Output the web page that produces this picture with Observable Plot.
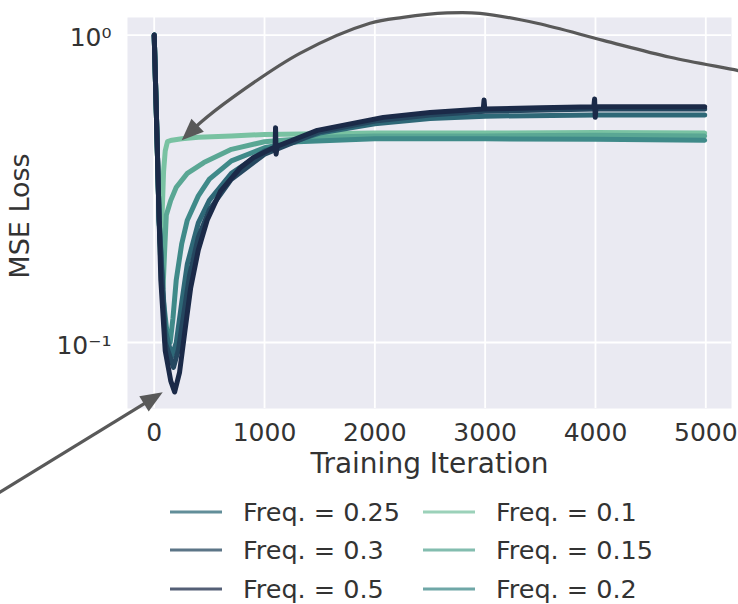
<!DOCTYPE html>
<html><head><meta charset="utf-8">
<script src="https://cdn.jsdelivr.net/npm/d3@7"></script>
<script src="https://cdn.jsdelivr.net/npm/@observablehq/plot@0.6"></script>
<style>
body{margin:0;background:#fff;font-family:"DejaVu Sans",sans-serif;}
#wrap{position:relative;width:738px;height:604px;overflow:hidden;}
.item{position:absolute;display:flex;align-items:center;font-size:25.5px;color:#333;height:34px;white-space:nowrap;}
.item svg{margin-right:21px;}
</style></head><body><div id="wrap"></div>
<script>
// ---- data ----
const freqLabels = ["Freq. = 0.1", "Freq. = 0.15", "Freq. = 0.2", "Freq. = 0.25", "Freq. = 0.3", "Freq. = 0.5"];
const freqColors = ["#79c2a2", "#5aa794", "#3f8a89", "#2e6877", "#25475f", "#1b2a48"];
const legendOrder = ["Freq. = 0.25", "Freq. = 0.3", "Freq. = 0.5", "Freq. = 0.1", "Freq. = 0.15", "Freq. = 0.2"];

const freq01 = [[0,1.0],[20,0.55],[45,0.25],[60,0.18],[70,0.25],[85,0.36],[100,0.42],[120,0.45],[160,0.455],[250,0.46],[400,0.465],[700,0.47],[1000,0.475],[1500,0.478],[2000,0.48],[3000,0.48],[4000,0.482],[4990,0.48]];
const freq015 = [[0,1.0],[20,0.55],[45,0.25],[65,0.16],[80,0.15],[95,0.2],[110,0.26],[150,0.29],[200,0.32],[300,0.355],[450,0.385],[700,0.425],[1000,0.45],[1500,0.465],[2000,0.47],[3000,0.47],[4000,0.472],[4990,0.47]];
const freq02 = [[0,1.0],[20,0.55],[45,0.25],[80,0.14],[120,0.105],[145,0.1],[170,0.12],[200,0.16],[250,0.21],[300,0.25],[400,0.3],[500,0.34],[700,0.39],[1000,0.43],[1300,0.45],[2000,0.46],[3000,0.46],[4000,0.458],[4990,0.455]];
const freq025 = [[0,1.0],[20,0.55],[45,0.25],[100,0.11],[160,0.09],[200,0.1],[250,0.135],[300,0.18],[400,0.245],[500,0.29],[700,0.355],[1000,0.42],[1500,0.48],[2000,0.515],[2500,0.535],[3000,0.545],[4000,0.55],[4990,0.55]];
const freq03 = [[0,1.0],[20,0.55],[45,0.25],[100,0.1],[175,0.083],[220,0.095],[270,0.125],[320,0.165],[400,0.22],[500,0.27],[700,0.34],[1000,0.41],[1500,0.485],[2000,0.525],[2500,0.55],[3000,0.565],[4000,0.575],[4990,0.575]];
const freq05 = [[0,1.0],[20,0.55],[45,0.25],[60,0.16],[100,0.094],[150,0.075],[185,0.069],[230,0.08],[280,0.11],[330,0.15],[400,0.2],[480,0.25],[600,0.31],[780,0.37],[900,0.4],[1080,0.43],[1095,0.42],[1100,0.5],[1105,0.41],[1115,0.435],[1478,0.49],[2076,0.54],[2500,0.56],[2983,0.575],[2990,0.615],[2997,0.575],[3500,0.58],[3985,0.585],[3992,0.62],[3998,0.54],[4005,0.585],[4500,0.585],[4990,0.585]];
const seriesList = [freq01, freq015, freq02, freq025, freq03, freq05];

const xTicks = [0, 1000, 2000, 3000, 4000, 5000];
const yTicks = [0.1, 1];
const yTickLabels = {"0.1": "10\u207B\u00B9", "1": "10\u2070"};

// annotation arrows, in data units (iteration, loss)
const arrowCurvePath = [[5363,0.754],[5290,0.765],[4682,0.844],[4074,0.958],[3475,1.089],[2958,1.173],[2659,1.176],[2260,1.138],[1960,1.089],[1325,0.869],[717,0.625],[417,0.515],[254,0.453]];
const arrowLine = {from: [-1441, 0.0317], to: [82, 0.0686]};

// ---- build table ----
const table = [];
seriesList.forEach((s, i) => s.forEach(([it, v]) => table.push({iter: it, loss: v, freq: freqLabels[i]})));

const plot = Plot.plot({
  width: 738, height: 490,
  marginLeft: 127, marginRight: 7, marginTop: 17, marginBottom: 82,
  style: {fontFamily: "DejaVu Sans", fontSize: "25px", color: "#333", background: "transparent", overflow: "visible"},
  x: {domain: [-242, 5233]},
  y: {type: "log", domain: [0.061, 1.141]},
  color: {domain: freqLabels, range: freqColors},
  marks: [
    Plot.frame({fill: "#eaeaf2", stroke: "none"}),
    Plot.gridX(xTicks, {stroke: "white", strokeOpacity: 1, strokeWidth: 1.8}),
    Plot.gridY(yTicks, {stroke: "white", strokeOpacity: 1, strokeWidth: 1.8}),
    Plot.axisX(xTicks, {tickSize: 0, tickPadding: 15, label: null, tickFormat: d => String(d), fontSize: 25}),
    Plot.axisY(yTicks, {tickSize: 0, tickPadding: 16, label: null, tickFormat: d => yTickLabels[String(d)], fontSize: 25, dy: 3}),
    Plot.line(table, {x: "iter", y: "loss", z: "freq", stroke: "freq", strokeWidth: 5, strokeLinejoin: "round"}),
    Plot.text(["Training Iteration"], {frameAnchor: "bottom", dy: 64, fontSize: 28, fill: "#333"}),
    Plot.text(["MSE Loss"], {frameAnchor: "left", textAnchor: "middle", dx: -107, dy: 3, rotate: -90, fontSize: 27, fill: "#333"})
  ]
});

// ---- arrows through the plot's scales ----
const sx = plot.scale("x"), sy = plot.scale("y");
const P = ([a, b]) => [sx.apply(a), sy.apply(b)];
const g = d3.select(plot).append("g").attr("fill", "#595959").attr("stroke", "#595959");
function head(tip, dir, L = 22, W = 18) {
  const n = Math.hypot(dir[0], dir[1]); const ux = dir[0] / n, uy = dir[1] / n;
  const bx = tip[0] - ux * L, by = tip[1] - uy * L;
  const px = -uy * W / 2, py = ux * W / 2;
  g.append("path").attr("stroke", "none")
    .attr("d", `M${tip[0]},${tip[1]}L${bx + px},${by + py}L${bx - px},${by - py}Z`);
  return [tip[0] - ux * L * 0.7, tip[1] - uy * L * 0.7];
}
{
  const pts = arrowCurvePath.map(P);
  const tip = pts[pts.length - 1], prev = pts[pts.length - 2];
  const end = head(tip, [tip[0] - prev[0], tip[1] - prev[1]]);
  const shaft = pts.slice(0, -1).concat([end]);
  g.append("path").attr("fill", "none").attr("stroke-width", 3.2)
    .attr("d", d3.line().curve(d3.curveCatmullRom.alpha(0.5))(shaft));
}
{
  const p0 = P(arrowLine.from), p2 = P(arrowLine.to);
  const end = head(p2, [p2[0] - p0[0], p2[1] - p0[1]]);
  g.append("path").attr("fill", "none").attr("stroke-width", 3.2)
    .attr("d", `M${p0[0]},${p0[1]}L${end[0]},${end[1]}`);
}

const wrap = document.getElementById("wrap");
wrap.appendChild(plot);

// ---- legend (below the SVG) ----
const rowY = [512, 550, 589];
const colX = [170, 423];
legendOrder.forEach((lab, k) => {
  const col = Math.floor(k / 3), row = k % 3;
  const color = freqColors[freqLabels.indexOf(lab)];
  const div = document.createElement("div");
  div.className = "item";
  div.style.left = colX[col] + "px";
  div.style.top = (rowY[row] - 17) + "px";
  div.innerHTML = `<svg width="52" height="6"><line x1="0" x2="52" y1="3" y2="3" stroke="${color}" stroke-opacity="0.75" stroke-width="3.2"/></svg><span>${lab}</span>`;
  wrap.appendChild(div);
});
</script>
</body></html>
